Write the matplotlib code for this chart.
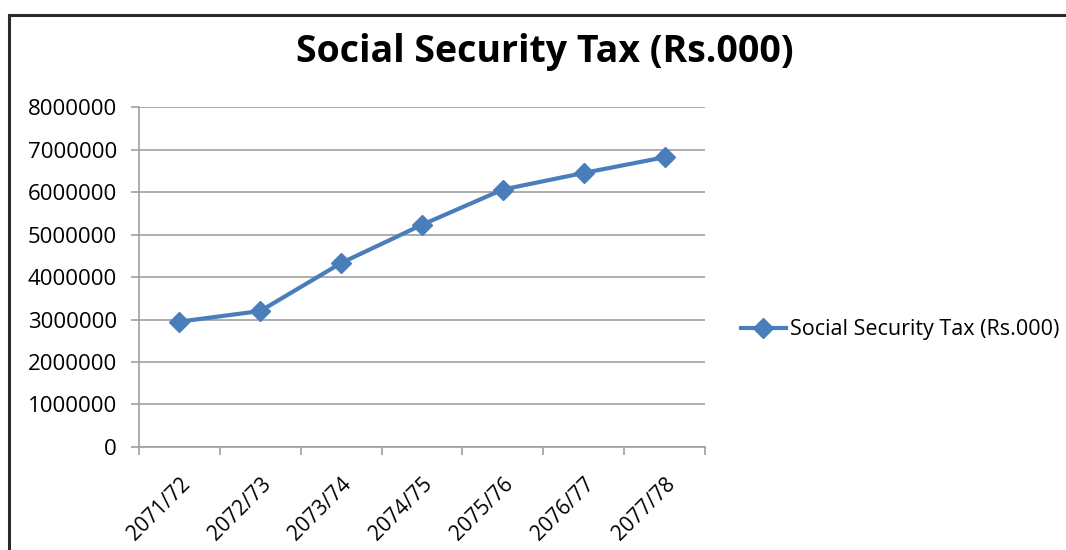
import matplotlib.pyplot as plt
from matplotlib.lines import Line2D
from matplotlib.ticker import FixedLocator, NullFormatter

plt.rcParams['font.family'] = ['Open Sans', 'DejaVu Sans']

years = ['2071/72', '2072/73', '2073/74', '2074/75', '2075/76', '2076/77', '2077/78']
tax = [2950000, 3200000, 4330000, 5230000, 6060000, 6450000, 6820000]
series_name = 'Social Security Tax (Rs.000)'

fig = plt.figure(figsize=(10.66, 5.5), dpi=100)
ax = fig.add_axes([0.1304, 0.1873, 0.531, 0.618])

x = list(range(len(years)))
line, = ax.plot(x, tax, color='#4A7EBB', lw=3, marker='D', markersize=10,
                label=series_name)

ax.set_xlim(-0.5, len(years) - 0.5)
ax.set_ylim(0, 8000000)
ax.set_yticks(range(0, 8000001, 1000000))
ax.set_yticklabels([str(v) for v in range(0, 8000001, 1000000)], fontsize=16)
ax.yaxis.grid(True, color='#A0A0A0', lw=1.2)
ax.set_axisbelow(True)

# labels centred on categories, ticks on category boundaries
ax.set_xticks(x)
ax.set_xticklabels(years, rotation=45, ha='right', rotation_mode='anchor', fontsize=15)
ax.tick_params(axis='x', which='major', length=0, pad=19)
ax.xaxis.set_minor_locator(FixedLocator([i - 0.5 for i in range(len(years) + 1)]))
ax.xaxis.set_minor_formatter(NullFormatter())
ax.tick_params(axis='x', which='minor', length=6, color='#A0A0A0', width=1.2)
ax.tick_params(axis='y', length=6, color='#A0A0A0', width=1.2, pad=10)

for s in ['top', 'right']:
    ax.spines[s].set_visible(False)
for s in ['left', 'bottom']:
    ax.spines[s].set_color('#A0A0A0')
    ax.spines[s].set_linewidth(1.2)

fig.text(0.511, 0.905, series_name, ha='center', va='center', fontsize=27, fontweight='bold')

fig.legend(handles=[line], loc='center left', bbox_to_anchor=(0.695, 0.40),
           frameon=False, fontsize=15.5, handlelength=2.1, handletextpad=0.2,
           borderpad=0, borderaxespad=0)

# chart outer border (left and top edges visible)
fig.add_artist(Line2D([0.0085, 0.0085], [0.0, 0.973], color='#2A2A2A', lw=2.2))
fig.add_artist(Line2D([0.0085, 1.0], [0.973, 0.973], color='#2A2A2A', lw=2.2))

fig.savefig('out.png', dpi=100)
